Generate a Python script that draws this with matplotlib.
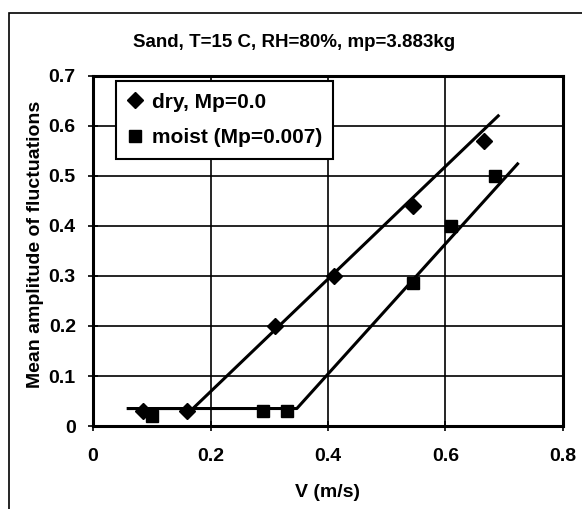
"""Sand fluctuation amplitude vs. velocity, dry and moist."""

import matplotlib.pyplot as plt
from matplotlib.patches import Rectangle

plt.rcParams["font.family"] = ["Liberation Sans", "DejaVu Sans"]
plt.rcParams["font.weight"] = "bold"

# Measured points
dry_v = [0.085, 0.16, 0.31, 0.41, 0.545, 0.665]
dry_amp = [0.03, 0.03, 0.20, 0.30, 0.44, 0.57]
moist_v = [0.10, 0.29, 0.33, 0.545, 0.61, 0.685]
moist_amp = [0.02, 0.03, 0.03, 0.285, 0.40, 0.50]

# Fitted lines (flat part + linear rise)
dry_fit_v = [0.06, 0.17, 0.69]
dry_fit_amp = [0.035, 0.035, 0.62]
moist_fit_v = [0.06, 0.347, 0.723]
moist_fit_amp = [0.035, 0.035, 0.524]

x_ticks = [0, 0.2, 0.4, 0.6, 0.8]
y_ticks = [0, 0.1, 0.2, 0.3, 0.4, 0.5, 0.6, 0.7]

fig = plt.figure(figsize=(5.82, 5.09), dpi=100)
ax = fig.add_axes([0.160, 0.163, 0.807, 0.688])

# Chart area border (only left/top visible in the scan)
fig.add_artist(Rectangle((0.016, -0.05), 1.2, 1.024, transform=fig.transFigure,
                         fill=False, edgecolor="black", lw=1.2))

ax.plot(dry_fit_v, dry_fit_amp, color="black", lw=2.2)
ax.plot(moist_fit_v, moist_fit_amp, color="black", lw=2.2)
ax.plot(dry_v, dry_amp, "D", color="black", ms=8, label="dry, Mp=0.0")
ax.plot(moist_v, moist_amp, "s", color="black", ms=9, label="moist (Mp=0.007)")

ax.set_xlim(0, 0.8)
ax.set_ylim(0, 0.7)
ax.set_xticks(x_ticks)
ax.set_yticks(y_ticks)
ax.set_xticklabels(["0", "0.2", "0.4", "0.6", "0.8"])
ax.set_yticklabels(["0", "0.1", "0.2", "0.3", "0.4", "0.5", "0.6", "0.7"])
ax.tick_params(direction="inout", length=7, width=1.2, labelsize=14)
ax.tick_params(axis="x", pad=12)
ax.tick_params(axis="y", pad=9)
ax.grid(True, color="black", lw=1.2)
ax.set_axisbelow(True)
for s in ax.spines.values():
    s.set_linewidth(2.2)

ax.set_xlabel("V (m/s)", fontsize=14, fontweight="bold", labelpad=14)
ax.set_ylabel("Mean amplitude of fluctuations", fontsize=14, fontweight="bold")
ax.yaxis.set_label_coords(-0.105, 0.52)
fig.text(0.505, 0.917, "Sand, T=15 C, RH=80%, mp=3.883kg", ha="center", va="center",
         fontsize=13.5, fontweight="bold")

leg = ax.legend(loc="upper left", bbox_to_anchor=(0.049, 0.985), borderaxespad=0,
                fontsize=15, handlelength=0.7, handletextpad=0.45, borderpad=0.55,
                labelspacing=0.8, fancybox=False, framealpha=1, edgecolor="black")
leg.get_frame().set_linewidth(1.5)

plt.savefig("out.png", dpi=100)
